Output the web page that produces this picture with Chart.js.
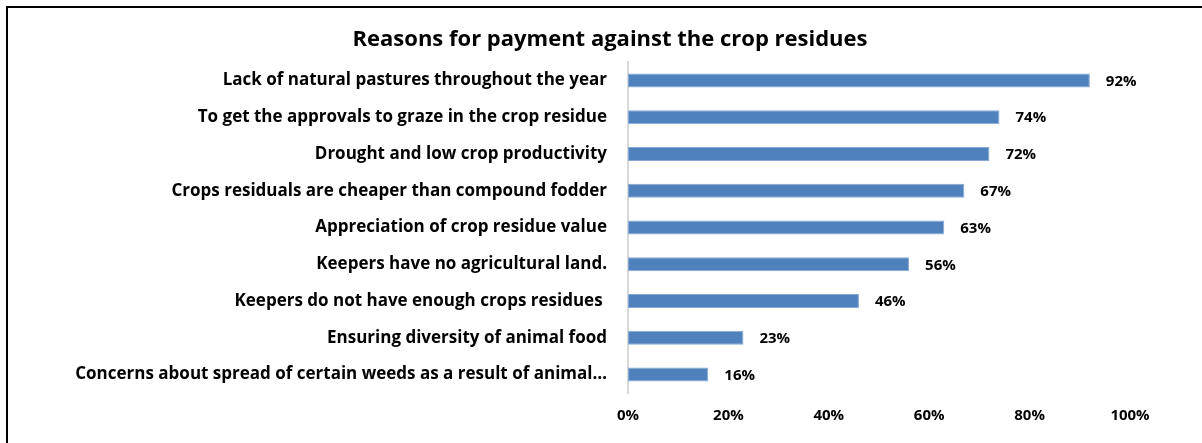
<!DOCTYPE html>
<html>
<head>
<meta charset="utf-8">
<title>Reasons for payment against the crop residues</title>
<script src="https://cdn.jsdelivr.net/npm/chart.js@4.4.1/dist/chart.umd.min.js"></script>
<style>
  html, body { margin: 0; padding: 0; background: #fff; overflow: hidden; }
  #wrap { position: relative; width: 1202px; height: 443px; }
  #frame {
    position: absolute; left: 6px; top: 6px; width: 1300px; height: 600px;
    border-left: 2px solid #000; border-top: 2px solid #000;
    pointer-events: none;
  }
</style>
</head>
<body>
<div id="wrap">
  <canvas id="reasonsChart" width="1202" height="443"></canvas>
  <div id="frame"></div>
</div>
<script>
// reasons for paying for crop residues, share of respondents (%)
const reasons = [
  'Lack of natural pastures throughout the year',
  'To get the approvals to graze in the crop residue',
  'Drought and low crop productivity',
  'Crops residuals are cheaper than compound fodder',
  'Appreciation of crop residue value',
  'Keepers have no agricultural land.',
  'Keepers do not have enough crops residues ',
  'Ensuring diversity of animal food',
  'Concerns about spread of certain weeds as a result of animal\u2026'
];
const shares = [92, 74, 72, 67, 63, 56, 46, 23, 16];
const xTicks = [0, 20, 40, 60, 80, 100];
const chartTitle = 'Reasons for payment against the crop residues';

const barBlue = '#4F81BD';
const font = "'Open Sans', Lato, sans-serif";

Chart.defaults.color = '#000';
Chart.defaults.font.family = font;

// value labels to the right of each bar
const barLabels = {
  id: 'barLabels',
  afterDatasetsDraw(chart) {
    const ctx = chart.ctx;
    const meta = chart.getDatasetMeta(0);
    ctx.save();
    ctx.font = 'bold 15px ' + font;
    ctx.fillStyle = '#000';
    ctx.textAlign = 'left';
    ctx.textBaseline = 'middle';
    meta.data.forEach((bar, i) => {
      ctx.fillText(shares[i] + '%', bar.x + 16, bar.y + 1);
    });
    ctx.restore();
  }
};

// title centred over the whole frame, not just the plot
const frameTitle = {
  id: 'frameTitle',
  afterDraw(chart) {
    const ctx = chart.ctx;
    ctx.save();
    ctx.font = 'bold 22px ' + font;
    ctx.fillStyle = '#000';
    ctx.textAlign = 'center';
    ctx.textBaseline = 'middle';
    ctx.fillText(chartTitle, 610, 40);
    ctx.restore();
  }
};

new Chart(document.getElementById('reasonsChart'), {
  type: 'bar',
  data: {
    labels: reasons,
    datasets: [{
      data: shares,
      backgroundColor: barBlue,
      borderColor: '#86A9D6',
      borderWidth: 1,
      borderSkipped: false,
      barPercentage: 0.38,
      categoryPercentage: 1
    }]
  },
  options: {
    indexAxis: 'y',
    responsive: false,
    animation: false,
    layout: { padding: { left: 0, right: 72, top: 62, bottom: 4 } },
    plugins: {
      legend: { display: false },
      tooltip: { enabled: false },
      title: { display: false }
    },
    scales: {
      x: {
        min: 0,
        max: 100,
        afterBuildTicks: axis => { axis.ticks = xTicks.map(v => ({ value: v })); },
        afterFit: axis => { axis.height = 46; },
        grid: { display: false, drawTicks: false },
        border: { display: false },
        ticks: {
          padding: 14,
          font: { size: 15, weight: 'bold' },
          callback: v => v + '%'
        }
      },
      y: {
        afterFit: axis => { axis.width = 628; },
        grid: { display: false, drawTicks: false },
        border: { display: true, color: '#D9D9D9', width: 2 },
        ticks: {
          padding: 21,
          autoSkip: false,
          font: { size: 17, weight: 'bold' }
        }
      }
    }
  },
  plugins: [barLabels, frameTitle]
});
</script>
</body>
</html>
